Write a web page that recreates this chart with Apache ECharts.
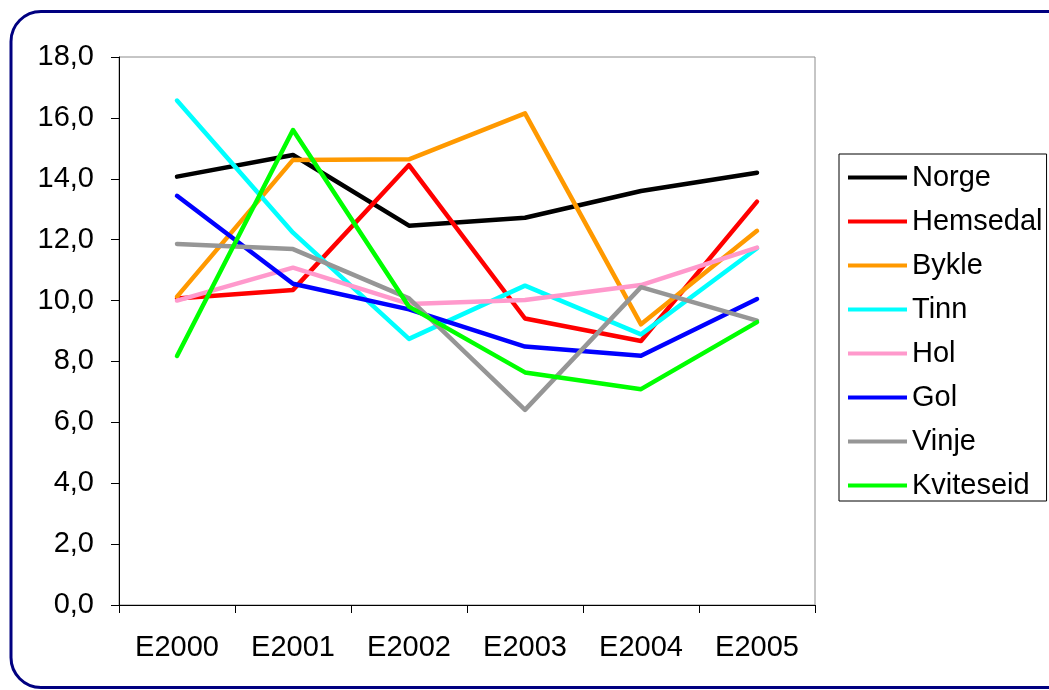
<!DOCTYPE html>
<html>
<head>
<meta charset="utf-8">
<script src="https://cdn.jsdelivr.net/npm/echarts@6/dist/echarts.min.js"></script>
<style>
html,body{margin:0;padding:0;background:#fff;}
#chart{width:1049px;height:690px;}
</style>
</head>
<body>
<div id="chart"></div>
<script>
const categories = ['E2000','E2001','E2002','E2003','E2004','E2005'];
const seriesNames = ['Norge','Hemsedal','Bykle','Tinn','Hol','Gol','Vinje','Kviteseid'];
const norge     = [14.07, 14.78, 12.46, 12.72, 13.60, 14.20];
const hemsedal  = [10.07, 10.35, 14.45,  9.41,  8.67, 13.25];
const bykle     = [10.13, 14.62, 14.64, 16.15,  9.22, 12.29];
const tinn      = [16.57, 12.23,  8.74, 10.49,  8.89, 11.72];
const hol       = [10.00, 11.08,  9.89, 10.02, 10.51, 11.74];
const gol       = [13.44, 10.55,  9.71,  8.49,  8.19, 10.05];
const vinje     = [11.86, 11.69, 10.07,  6.41, 10.44,  9.34];
const kviteseid = [ 8.18, 15.60,  9.80,  7.64,  7.09,  9.29];
const colors = ['#000000','#FF0000','#FF9900','#00FFFF','#FF99CC','#0000FF','#969696','#00FF00'];
const values = [norge, hemsedal, bykle, tinn, hol, gol, vinje, kviteseid];

const font = '"Liberation Sans", Arial, sans-serif';
const chart = echarts.init(document.getElementById('chart'), null, {renderer:'canvas'});
chart.setOption({
  animation: false,
  backgroundColor: '#fff',
  graphic: [{
    type: 'rect', z: 100, silent: true,
    shape: {x: 11, y: 11.5, width: 1070, height: 676, r: 30},
    style: {fill: 'none', stroke: '#000080', lineWidth: 3}
  }],
  grid: {left: 119, right: 234, top: 57, bottom: 85, show: true, borderColor: '#8c8c8c', borderWidth: 1, backgroundColor: 'transparent'},
  legend: {
    orient: 'vertical', left: 839, top: 154,
    data: seriesNames,
    icon: 'rect', itemWidth: 59, itemHeight: 4, itemGap: 15,
    padding: [9, 4, 1, 9],
    borderColor: '#000', borderWidth: 1,
    textStyle: {fontFamily: font, fontSize: 29, color: '#000'}
  },
  xAxis: {
    type: 'category', data: categories, boundaryGap: true,
    axisLine: {lineStyle: {color: '#000', width: 1}},
    axisTick: {show: true, inside: false, length: 8, lineStyle: {color: '#000'}},
    axisLabel: {fontFamily: font, fontSize: 29, color: '#000', margin: 28},
    splitLine: {show: false}
  },
  yAxis: {
    type: 'value', min: 0, max: 18, interval: 2,
    axisLine: {show: true, lineStyle: {color: '#000', width: 1}},
    axisTick: {show: true, inside: false, length: 8, lineStyle: {color: '#000'}},
    axisLabel: {fontFamily: font, fontSize: 29, color: '#000', margin: 25,
      formatter: v => v.toFixed(1).replace('.', ',')},
    splitLine: {show: false}
  },
  series: seriesNames.map((n, i) => ({
    name: n, type: 'line', data: values[i], symbol: 'none',
    lineStyle: {color: colors[i], width: 4.5, cap: 'round', join: 'round'},
    itemStyle: {color: colors[i]}
  }))
});
</script>
</body>
</html>
